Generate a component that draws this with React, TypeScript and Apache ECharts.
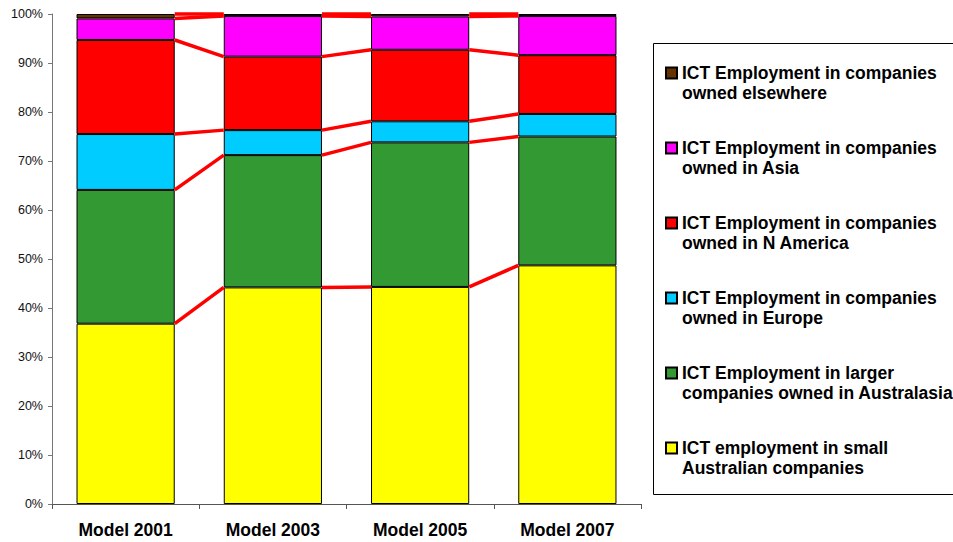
import React, { useEffect, useRef } from "react";
import * as echarts from "echarts";

const categories = ["Model 2001", "Model 2003", "Model 2005", "Model 2007"];
const smallAustralian = [36.8, 44.2, 44.3, 48.7];
const largerAustralasia = [27.3, 27.0, 29.5, 26.3];
const europe = [11.4, 5.1, 4.3, 4.6];
const nAmerica = [19.2, 15.0, 14.6, 12.0];
const asia = [4.4, 8.3, 6.8, 8.0];
const elsewhere = [0.9, 0.4, 0.5, 0.4];

const seriesNames = [
  "ICT employment in small\nAustralian companies",
  "ICT Employment in larger\ncompanies owned in Australasia",
  "ICT Employment in companies\nowned in Europe",
  "ICT Employment in companies\nowned in N America",
  "ICT Employment in companies\nowned in Asia",
  "ICT Employment in companies\nowned elsewhere",
];
const seriesValues = [smallAustralian, largerAustralasia, europe, nAmerica, asia, elsewhere];
const seriesColors = ["#FFFF00", "#339933", "#00CCFF", "#FF0000", "#FF00FF", "#663300"];

const BAR_FRACTION = 0.667;
const FONT = "Arial, 'Liberation Sans', Helvetica, sans-serif";

export default function App() {
  const ref = useRef<HTMLDivElement>(null);
  useEffect(() => {
    if (!ref.current) return;
    const chart = echarts.init(ref.current, null, { renderer: "svg" });

    const cumulative = seriesValues.map((_, k) =>
      categories.map((_, i) => seriesValues.slice(0, k + 1).reduce((s, a) => s + a[i], 0))
    );

    const barSeries = seriesValues.map((vals, k) => ({
      type: "bar",
      name: seriesNames[k],
      stack: "total",
      data: vals,
      barWidth: `${BAR_FRACTION * 100}%`,
      itemStyle: { color: seriesColors[k], borderColor: "#000", borderWidth: 1 },
      z: 2,
    }));

    const seriesLines = {
      type: "custom",
      name: "series lines",
      data: categories.slice(0, -1).map((_, i) => [i, 0]),
      encode: { x: 0, y: 1 },
      z: 5,
      silent: true,
      clip: false,
      renderItem: (params: any, api: any) => {
        const i = api.value(0);
        const band = api.size([1, 0])[0];
        const half = (band * BAR_FRACTION) / 2;
        const children = cumulative.map((cum) => {
          const p1 = api.coord([i, cum[i]]);
          const p2 = api.coord([i + 1, cum[i + 1]]);
          return {
            type: "line",
            shape: { x1: p1[0] + half, y1: p1[1], x2: p2[0] - half, y2: p2[1] },
            style: { stroke: "#FF0000", lineWidth: 3.5 },
          };
        });
        return { type: "group", children };
      },
    };

    chart.setOption({
      animation: false,
      backgroundColor: "#ffffff",
      grid: { left: 52, right: 312, top: 14, bottom: 38, containLabel: false },
      graphic: [
        {
          type: "rect",
          silent: true,
          shape: { x: 653.5, y: 43.5, width: 330, height: 451 },
          style: { fill: "none", stroke: "#000", lineWidth: 1 },
        },
      ],
      xAxis: {
        type: "category",
        data: categories,
        axisLine: { lineStyle: { color: "#555", width: 1 } },
        axisTick: { show: true, length: 5, lineStyle: { color: "#555" } },
        axisLabel: { color: "#000", fontSize: 17.5, fontWeight: "bold", fontFamily: FONT, margin: 17 },
        splitLine: { show: false },
      },
      yAxis: {
        type: "value",
        min: 0,
        max: 100,
        interval: 10,
        axisLine: { show: true, lineStyle: { color: "#777", width: 1 } },
        axisTick: { show: true, length: 4, lineStyle: { color: "#777" } },
        axisLabel: { color: "#111", fontSize: 12.5, fontFamily: FONT, formatter: "{value}%", margin: 9 },
        splitLine: { show: false },
      },
      legend: {
        orient: "vertical",
        left: 653,
        top: 43,
        data: seriesNames.slice().reverse(),
        formatter: (name: string) => "\n" + name,
        selectedMode: false,
        icon: "rect",
        itemWidth: 11,
        itemHeight: 11,
        itemGap: 15,
        padding: [0, 0, 18, 12],
        borderWidth: 0,
        textStyle: {
          color: "#000",
          fontSize: 17.5,
          fontWeight: "bold",
          fontFamily: FONT,
          lineHeight: 20,
        },
      },
      series: [...barSeries, seriesLines],
    });
    return () => chart.dispose();
  }, []);
  return <div ref={ref} style={{ position: "fixed", left: 0, top: 0, width: 953, height: 542 }} />;
}
